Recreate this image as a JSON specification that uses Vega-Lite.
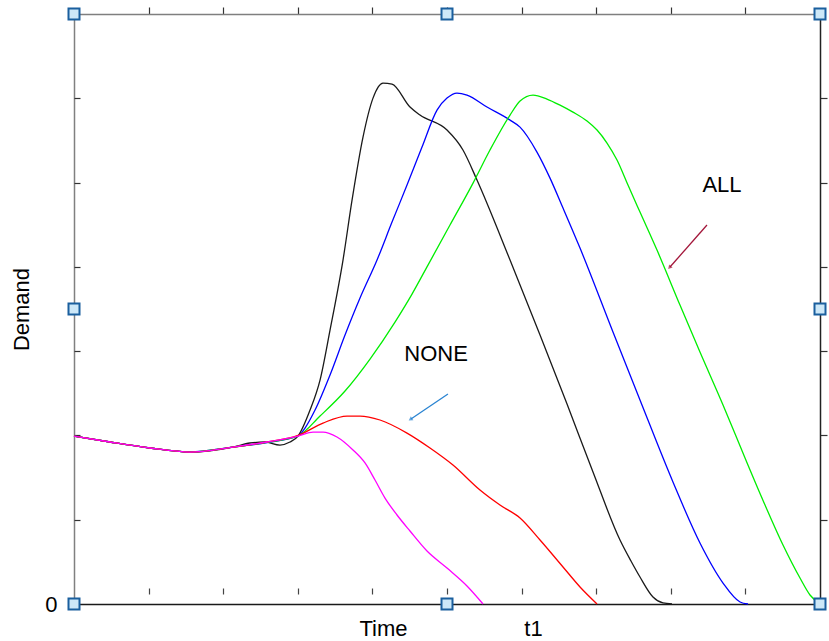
{
  "$schema": "https://vega.github.io/schema/vega-lite/v6.json",
  "width": 746,
  "height": 590,
  "autosize": {"type": "none"},
  "padding": {"left": 74, "top": 14, "right": 9, "bottom": 37},
  "background": "white",
  "config": {"view": {"stroke": null}, "axis": {"grid": false}},
  "datasets": {
    "curves": [
      {"s":"black","t":0,"d":1.993},{"s":"black","t":0.483,"d":1.922},{"s":"black","t":1.019,"d":1.851},{"s":"black","t":1.555,"d":1.803},{"s":"black","t":2.131,"d":1.862},{"s":"black","t":2.359,"d":1.91},{"s":"black","t":2.56,"d":1.922},{"s":"black","t":2.761,"d":1.886},{"s":"black","t":2.895,"d":1.922},{"s":"black","t":3.003,"d":1.993},{"s":"black","t":3.164,"d":2.301},{"s":"black","t":3.298,"d":2.657},{"s":"black","t":3.432,"d":3.25},{"s":"black","t":3.606,"d":4.081},{"s":"black","t":3.727,"d":4.792},{"s":"black","t":3.874,"d":5.54},{"s":"black","t":4.008,"d":6.002},{"s":"black","t":4.142,"d":6.18},{"s":"black","t":4.263,"d":6.168},{"s":"black","t":4.504,"d":5.896},{"s":"black","t":4.638,"d":5.801},{"s":"black","t":5.0,"d":5.623},{"s":"black","t":5.214,"d":5.386},{"s":"black","t":5.402,"d":5.03},{"s":"black","t":5.845,"d":4.081},{"s":"black","t":6.247,"d":3.191},{"s":"black","t":6.609,"d":2.372},{"s":"black","t":6.957,"d":1.566},{"s":"black","t":7.319,"d":0.759},{"s":"black","t":7.466,"d":0.51},{"s":"black","t":7.587,"d":0.32},{"s":"black","t":7.761,"d":0.083},{"s":"black","t":7.895,"d":0.012},{"s":"black","t":8.016,"d":0},
      {"s":"blue","t":0,"d":1.993},{"s":"blue","t":0.483,"d":1.922},{"s":"blue","t":1.019,"d":1.851},{"s":"blue","t":1.555,"d":1.803},{"s":"blue","t":2.131,"d":1.862},{"s":"blue","t":2.587,"d":1.915},{"s":"blue","t":3.003,"d":1.993},{"s":"blue","t":3.097,"d":2.088},{"s":"blue","t":3.231,"d":2.301},{"s":"blue","t":3.432,"d":2.717},{"s":"blue","t":3.633,"d":3.191},{"s":"blue","t":3.834,"d":3.63},{"s":"blue","t":4.062,"d":4.081},{"s":"blue","t":4.263,"d":4.531},{"s":"blue","t":4.464,"d":4.97},{"s":"blue","t":4.665,"d":5.421},{"s":"blue","t":4.866,"d":5.86},{"s":"blue","t":5.0,"d":6.002},{"s":"blue","t":5.134,"d":6.062},{"s":"blue","t":5.268,"d":6.038},{"s":"blue","t":5.536,"d":5.896},{"s":"blue","t":5.845,"d":5.741},{"s":"blue","t":5.979,"d":5.658},{"s":"blue","t":6.206,"d":5.362},{"s":"blue","t":6.381,"d":5.053},{"s":"blue","t":6.555,"d":4.698},{"s":"blue","t":6.783,"d":4.223},{"s":"blue","t":7.225,"d":3.227},{"s":"blue","t":7.587,"d":2.42},{"s":"blue","t":8.029,"d":1.447},{"s":"blue","t":8.391,"d":0.724},{"s":"blue","t":8.7,"d":0.249},{"s":"blue","t":8.928,"d":0.024},{"s":"blue","t":9.035,"d":0},
      {"s":"green","t":0,"d":1.993},{"s":"green","t":0.483,"d":1.922},{"s":"green","t":1.019,"d":1.851},{"s":"green","t":1.555,"d":1.803},{"s":"green","t":2.131,"d":1.862},{"s":"green","t":2.587,"d":1.918},{"s":"green","t":3.003,"d":1.993},{"s":"green","t":3.298,"d":2.23},{"s":"green","t":3.633,"d":2.527},{"s":"green","t":3.968,"d":2.906},{"s":"green","t":4.303,"d":3.345},{"s":"green","t":4.531,"d":3.677},{"s":"green","t":4.745,"d":4.021},{"s":"green","t":5.04,"d":4.496},{"s":"green","t":5.349,"d":4.994},{"s":"green","t":5.576,"d":5.386},{"s":"green","t":5.845,"d":5.801},{"s":"green","t":5.979,"d":5.967},{"s":"green","t":6.153,"d":6.038},{"s":"green","t":6.34,"d":5.991},{"s":"green","t":6.515,"d":5.919},{"s":"green","t":6.689,"d":5.836},{"s":"green","t":6.877,"d":5.73},{"s":"green","t":7.011,"d":5.623},{"s":"green","t":7.145,"d":5.469},{"s":"green","t":7.279,"d":5.267},{"s":"green","t":7.426,"d":4.97},{"s":"green","t":7.587,"d":4.65},{"s":"green","t":7.815,"d":4.199},{"s":"green","t":8.123,"d":3.547},{"s":"green","t":8.391,"d":2.989},{"s":"green","t":8.7,"d":2.361},{"s":"green","t":8.995,"d":1.732},{"s":"green","t":9.263,"d":1.174},{"s":"green","t":9.504,"d":0.7},{"s":"green","t":9.732,"d":0.308},{"s":"green","t":9.866,"d":0.107},{"s":"green","t":10,"d":0},
      {"s":"red","t":0,"d":1.993},{"s":"red","t":0.483,"d":1.922},{"s":"red","t":1.019,"d":1.851},{"s":"red","t":1.555,"d":1.803},{"s":"red","t":2.131,"d":1.862},{"s":"red","t":2.587,"d":1.922},{"s":"red","t":3.003,"d":2.0},{"s":"red","t":3.338,"d":2.147},{"s":"red","t":3.66,"d":2.23},{"s":"red","t":3.834,"d":2.23},{"s":"red","t":4.102,"d":2.183},{"s":"red","t":4.464,"d":2.028},{"s":"red","t":4.772,"d":1.851},{"s":"red","t":5.08,"d":1.649},{"s":"red","t":5.442,"d":1.352},{"s":"red","t":5.71,"d":1.174},{"s":"red","t":5.979,"d":1.02},{"s":"red","t":6.247,"d":0.759},{"s":"red","t":6.555,"d":0.439},{"s":"red","t":6.783,"d":0.202},{"s":"red","t":7.011,"d":0},
      {"s":"magenta","t":0,"d":1.993},{"s":"magenta","t":0.483,"d":1.922},{"s":"magenta","t":1.019,"d":1.851},{"s":"magenta","t":1.555,"d":1.803},{"s":"magenta","t":2.131,"d":1.862},{"s":"magenta","t":2.587,"d":1.922},{"s":"magenta","t":3.003,"d":1.993},{"s":"magenta","t":3.204,"d":2.04},{"s":"magenta","t":3.338,"d":2.04},{"s":"magenta","t":3.525,"d":1.981},{"s":"magenta","t":3.74,"d":1.827},{"s":"magenta","t":3.901,"d":1.673},{"s":"magenta","t":4.035,"d":1.471},{"s":"magenta","t":4.169,"d":1.257},{"s":"magenta","t":4.33,"d":1.056},{"s":"magenta","t":4.504,"d":0.866},{"s":"magenta","t":4.732,"d":0.629},{"s":"magenta","t":5.0,"d":0.427},{"s":"magenta","t":5.268,"d":0.214},{"s":"magenta","t":5.483,"d":0}
    ],
    "notes": [
      {"label":"ALL","t":8.686,"d":4.887},
      {"label":"NONE","t":4.853,"d":2.883}
    ],
    "arrows": [
      {"s":"arrowAll","t":8.485,"d":4.496,"t2":7.989,"d2":3.998},
      {"s":"arrowNone","t":5.013,"d":2.491,"t2":4.517,"d2":2.195}
    ],
    "handles": [
      {"t":0,"d":0},{"t":5,"d":0},{"t":10,"d":0},
      {"t":0,"d":3.5},{"t":10,"d":3.5},
      {"t":0,"d":7},{"t":5,"d":7},{"t":10,"d":7}
    ]
  },
  "resolve": {"axis": {"x": "independent", "y": "independent"}},
  "layer": [
    {
      "data": {"name": "curves"},
      "mark": {"type": "line", "strokeWidth": 1.3, "interpolate": "monotone"},
      "encoding": {
        "x": {"field": "t", "type": "quantitative",
              "scale": {"domain": [0, 10], "nice": false, "zero": false},
              "axis": {"orient": "bottom", "values": [4.142, 6.153], "labelExpr": "datum.value < 5 ? 'Time' : 't1'",
                       "ticks": false, "title": null, "domainColor": "#1a1a1a", "domainWidth": 1.5,
                       "labelFont": "Liberation Sans", "labelFontSize": 22, "labelColor": "#000000",
                       "labelPadding": 14, "labelFlush": false, "labelOverlap": false}},
        "y": {"field": "d", "type": "quantitative",
              "scale": {"domain": [0, 7], "nice": false},
              "axis": {"orient": "left", "values": [0], "ticks": false, "title": "Demand",
                       "titleFont": "Liberation Sans", "titleFontSize": 22, "titleFontWeight": "normal",
                       "titleColor": "#000000", "titlePadding": 11,
                       "domainColor": "#808080", "domainWidth": 1.5,
                       "labelFont": "Liberation Sans", "labelFontSize": 22, "labelColor": "#000000",
                       "labelPadding": 17}},
        "color": {"field": "s", "type": "nominal",
                  "scale": {"domain": ["black", "blue", "green", "red", "magenta", "arrowAll", "arrowNone"],
                            "range": ["#1a1a1a", "#0000ff", "#00ee00", "#ff0000", "#ff00ff", "#a3163a", "#2a84d2"]},
                  "legend": null}
      }
    },
    {
      "data": {"name": "notes"},
      "mark": {"type": "text", "font": "Liberation Sans", "fontSize": 22, "baseline": "alphabetic", "align": "center", "color": "#000000"},
      "encoding": {
        "x": {"field": "t", "type": "quantitative",
              "axis": {"orient": "bottom", "offset": -10, "values": [1, 2, 3, 4, 5, 6, 7, 8, 9], "tickSize": -6,
                       "tickColor": "#444444", "tickWidth": 1.2, "domain": false, "labels": false, "title": null}},
        "y": {"field": "d", "type": "quantitative",
              "axis": {"orient": "left", "values": [1, 2, 3, 4, 5, 6], "tickSize": -6, "tickColor": "#333333",
                       "tickWidth": 1.2, "domain": false, "labels": false, "title": null}},
        "text": {"field": "label"}
      }
    },
    {
      "data": {"name": "arrows"},
      "mark": {"type": "rule", "strokeWidth": 1.3},
      "encoding": {
        "x": {"field": "t", "type": "quantitative", "axis": null},
        "y": {"field": "d", "type": "quantitative", "axis": null},
        "x2": {"field": "t2"},
        "y2": {"field": "d2"},
        "color": {"field": "s", "type": "nominal", "legend": null}
      }
    },
    {
      "data": {"name": "arrows"},
      "transform": [{"filter": "datum.s == 'arrowAll'"}],
      "mark": {"type": "point", "shape": "triangle", "filled": true, "size": 22, "angle": 221},
      "encoding": {
        "x": {"field": "t2", "type": "quantitative", "axis": null},
        "y": {"field": "d2", "type": "quantitative", "axis": null},
        "color": {"field": "s", "type": "nominal", "legend": null}
      }
    },
    {
      "data": {"name": "arrows"},
      "transform": [{"filter": "datum.s == 'arrowNone'"}],
      "mark": {"type": "point", "shape": "triangle", "filled": true, "size": 22, "angle": 236},
      "encoding": {
        "x": {"field": "t2", "type": "quantitative", "axis": null},
        "y": {"field": "d2", "type": "quantitative", "axis": null},
        "color": {"field": "s", "type": "nominal", "legend": null}
      }
    },
    {
      "data": {"name": "handles"},
      "mark": {"type": "point", "shape": "square", "size": 121, "filled": true, "fill": "#cde8f8", "stroke": "#1a5f9e", "strokeWidth": 2, "opacity": 1, "clip": false},
      "encoding": {
        "x": {"field": "t", "type": "quantitative",
              "axis": {"orient": "top", "values": [1, 2, 3, 4, 5, 6, 7, 8, 9], "tickSize": 7, "tickColor": "#333333",
                       "tickWidth": 1.2, "domainColor": "#7f7f7f", "domainWidth": 1.5, "labels": false, "title": null}},
        "y": {"field": "d", "type": "quantitative",
              "axis": {"orient": "right", "values": [1, 2, 3, 4, 5, 6], "tickSize": 7, "tickColor": "#333333",
                       "tickWidth": 1.2, "domainColor": "#222222", "domainWidth": 1.5, "labels": false, "title": null}}
      }
    }
  ]
}
